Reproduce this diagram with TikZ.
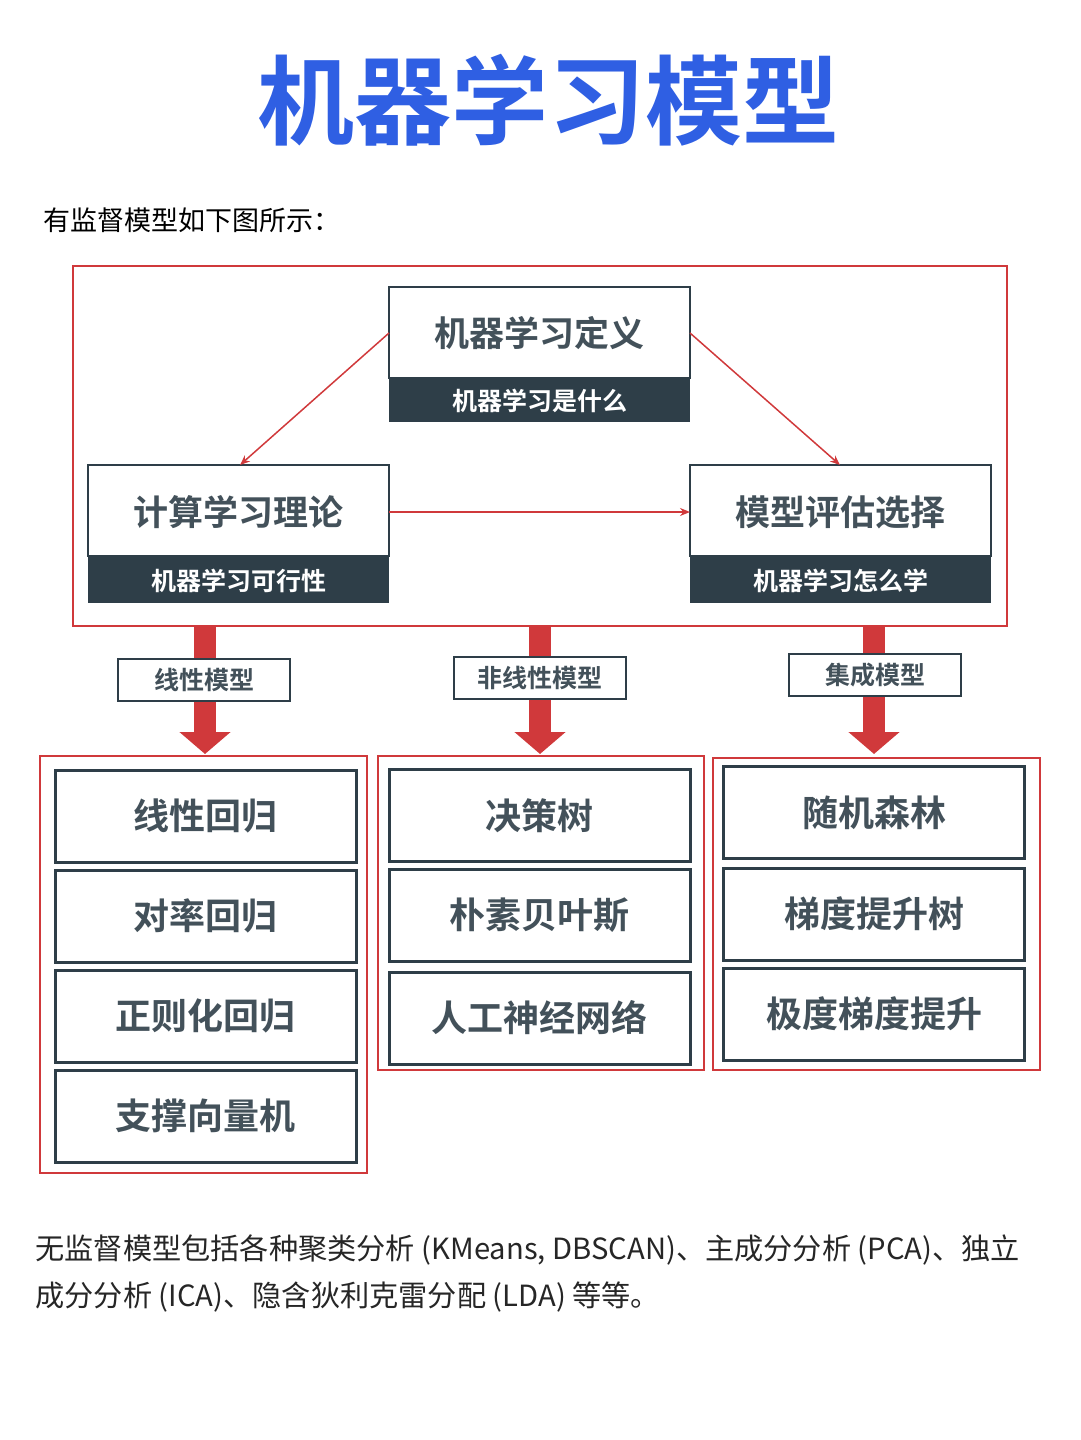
\documentclass[tikz,border=0pt]{standalone}
\usepackage{fontspec}
\setmainfont{Noto Sans CJK SC}[BoldFont=Noto Sans CJK SC Bold]
\usetikzlibrary{arrows.meta}
\definecolor{tblue}{HTML}{2F5FE3}
\definecolor{rd}{HTML}{D0393B}
\definecolor{dk}{HTML}{2E3E48}
\begin{document}
\begin{tikzpicture}[x=1pt,y=-1pt,
 frame/.style={draw=rd,line width=2.5pt},
 top/.style={draw=dk,line width=2.5pt,fill=white},
 band/.style={fill=dk},
 ttl/.style={font=\bfseries\fontsize{35}{40}\selectfont,text=dk!90},
 sub/.style={font=\bfseries\fontsize{25}{30}\selectfont,text=white},
 item/.style={draw=dk,line width=3pt,fill=white,minimum width=301pt,minimum height=92pt,font=\bfseries\fontsize{36}{40}\selectfont,text=dk!90},
 lab/.style={draw=dk,line width=2pt,fill=white,minimum width=172pt,minimum height=42pt,font=\bfseries\fontsize{25}{30}\selectfont,text=dk!90},
 thin/.style={draw=rd,line width=1.5pt,-{Stealth[length=10pt,width=8pt]}},
 fat/.style={draw=rd,line width=22pt,-{Triangle[length=22pt,width=50pt]}}]
\useasboundingbox (0,0) rectangle (1080,1440);
\node (title) at (548,100) {\bfseries\fontsize{97}{100}\selectfont\textcolor{tblue}{机器学习模型}};
\node[anchor=west] (intro) at (40,220) {\fontsize{27}{32}\selectfont 有监督模型如下图所示：};
\draw[frame] (73,266) rectangle (1007,626);
% top box
\fill[band] (389,378) rectangle (690,422);
\draw[top] (389,287) rectangle (690,378);
\node[ttl] (def) at (539.5,333) {机器学习定义};
\node[sub] (defs) at (539.5,401) {机器学习是什么};
\coordinate (defL) at (389,333); \coordinate (defR) at (690,333);
% left box
\fill[band] (88,556) rectangle (389,603);
\draw[top] (88,465) rectangle (389,556);
\node[ttl] (th) at (238.5,512) {计算学习理论};
\node[sub] (ths) at (238.5,581) {机器学习可行性};
\coordinate (thT) at (240,465); \coordinate (thR) at (389,512);
% right box
\fill[band] (690,556) rectangle (991,603);
\draw[top] (690,465) rectangle (991,556);
\node[ttl] (ev) at (840.5,512) {模型评估选择};
\node[sub] (evs) at (840.5,581) {机器学习怎么学};
\coordinate (evT) at (840,465); \coordinate (evL) at (690,512);
\draw[thin] (defL) -- (thT);
\draw[thin] (defR) -- (evT);
\draw[thin] (thR) -- (evL);
% fat arrows
\coordinate (a1) at (205,626); \coordinate (b1) at (205,754);
\coordinate (a2) at (540,626); \coordinate (b2) at (540,754);
\coordinate (a3) at (874,626); \coordinate (b3) at (874,754);
\draw[fat] (a1) -- (b1);
\draw[fat] (a2) -- (b2);
\draw[fat] (a3) -- (b3);
\node[lab] (l1) at (204,680) {线性模型};
\node[lab] (l2) at (539.5,678) {非线性模型};
\node[lab] (l3) at (875,675) {集成模型};
% columns
\draw[frame] (40,756) rectangle (367,1173);
\draw[frame] (378,756) rectangle (704,1070);
\draw[frame] (713,758) rectangle (1040,1070);
\node[item] (c11) at (205.5,816) {线性回归};
\node[item] (c12) at (205.5,916) {对率回归};
\node[item] (c13) at (205.5,1016) {正则化回归};
\node[item] (c14) at (205.5,1116) {支撑向量机};
\node[item] (c21) at (539.5,815.5) {决策树};
\node[item] (c22) at (539.5,915.5) {朴素贝叶斯};
\node[item] (c23) at (539.5,1018) {人工神经网络};
\node[item] (c31) at (874,812.5) {随机森林};
\node[item] (c32) at (874,914) {梯度提升树};
\node[item] (c33) at (874,1014) {极度梯度提升};
\node[anchor=west,align=left,font=\fontsize{29.2}{47}\selectfont,text=black!85] (foot) at (32,1273)
 {无监督模型包括各种聚类分析 (KMeans, DBSCAN)、主成分分析 (PCA)、独立\\成分分析 (ICA)、隐含狄利克雷分配 (LDA) 等等。};
\end{tikzpicture}
\end{document}
